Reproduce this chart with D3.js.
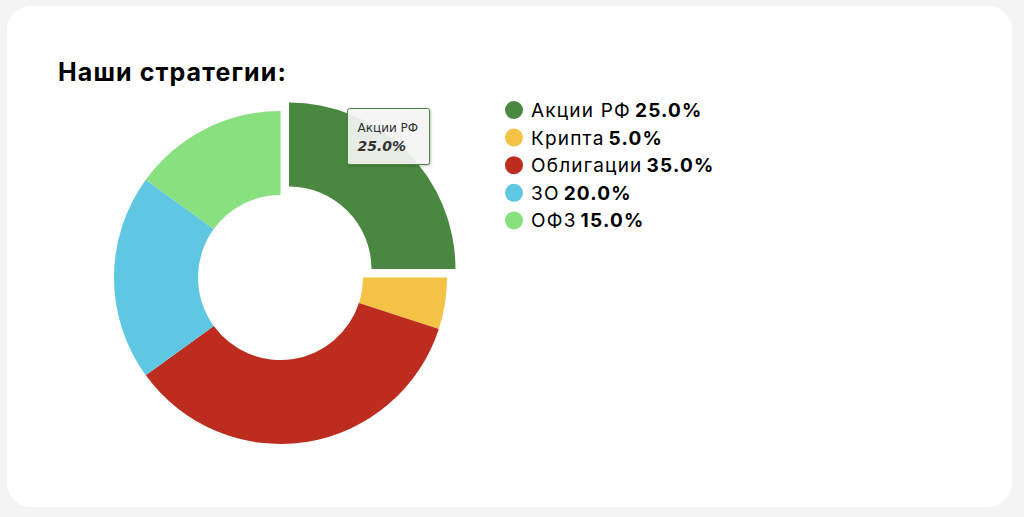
<!DOCTYPE html>
<html><head><meta charset="utf-8">
<script src="https://cdn.jsdelivr.net/npm/d3@7"></script>
<style>
html,body{margin:0;padding:0;background:#f4f4f4;}
svg{display:block;}
</style></head>
<body>
<svg id="chart" width="1024" height="517"></svg>
<script>
const categories = ["Акции РФ", "Крипта", "Облигации", "ЗО", "ОФЗ"];
const values = [25, 5, 35, 20, 15];
const colors = ["#4a8740", "#f4c244", "#bd2d1f", "#5fc7e1", "#89e07e"];
const title = "Наши стратегии:";
const hovered = 0;

const svg = d3.select("#chart");
svg.append("rect").attr("x", 7).attr("y", 6).attr("width", 1005).attr("height", 501)
  .attr("rx", 24).attr("fill", "#ffffff");

svg.append("text").attr("x", 58).attr("y", 81).text(title)
  .attr("font-family", "Inter, 'DejaVu Sans', sans-serif").attr("font-weight", 700)
  .attr("font-size", 25).attr("letter-spacing", 1.1).attr("fill", "#000");

const cx = 280.5, cy = 277.5, R = 166.5, r = 82.5;
const total = d3.sum(values);
const data = categories.map((c, i) => ({name: c, value: values[i], color: colors[i]}));
const pie = d3.pie().value(d => d.value).sort(null);
const arc = d3.arc().innerRadius(r).outerRadius(R);
const arcs = pie(data);

const g = svg.append("g").attr("transform", `translate(${cx},${cy})`);
g.selectAll("path").data(arcs).join("path")
  .attr("d", arc)
  .attr("fill", d => d.data.color)
  .attr("transform", (d, i) => {
    if (i !== hovered) return null;
    const m = (d.startAngle + d.endAngle) / 2;
    const off = 12;
    return `translate(${off * Math.sin(m)},${-off * Math.cos(m)})`;
  });

// tooltip
const tip = svg.append("g").attr("transform", "translate(347.5,108.5)");
const defs = svg.append("defs");
const f = defs.append("filter").attr("id", "sh").attr("x", "-20%").attr("y", "-20%").attr("width", "150%").attr("height", "150%");
f.append("feDropShadow").attr("dx", 1).attr("dy", 1).attr("stdDeviation", 1.2).attr("flood-color", "#000").attr("flood-opacity", 0.25);
tip.append("rect").attr("width", 82).attr("height", 56).attr("rx", 2)
  .attr("fill", "rgba(247,247,247,0.9)").attr("stroke", colors[hovered]).attr("stroke-width", 1)
  .attr("filter", "url(#sh)");
tip.append("text").attr("x", 10).attr("y", 23).text(categories[hovered])
  .attr("font-family", "'DejaVu Sans', sans-serif").attr("font-size", 12).attr("fill", "#333");
tip.append("text").attr("x", 10).attr("y", 42).text((values[hovered] / total * 100).toFixed(1) + "%")
  .attr("font-family", "'DejaVu Sans', sans-serif").attr("font-size", 14).attr("font-weight", 700)
  .attr("font-style", "italic").attr("fill", "#333");

// legend
const lg = svg.append("g");
const rows = lg.selectAll("g").data(data).join("g")
  .attr("transform", (d, i) => `translate(514,${110 + i * 27.6})`);
rows.append("circle").attr("r", 9).attr("fill", d => d.color);
const t = rows.append("text").attr("x", 17).attr("y", 7)
  .attr("font-family", "Inter, 'DejaVu Sans', sans-serif").attr("font-size", 19)
  .attr("letter-spacing", 1.2).attr("fill", "#000");
t.append("tspan").text(d => d.name).attr("letter-spacing", 1.2);
t.append("tspan").attr("font-weight", 700).attr("dx", 4).text(d => (d.value / total * 100).toFixed(1) + "%");
</script>
</body></html>
